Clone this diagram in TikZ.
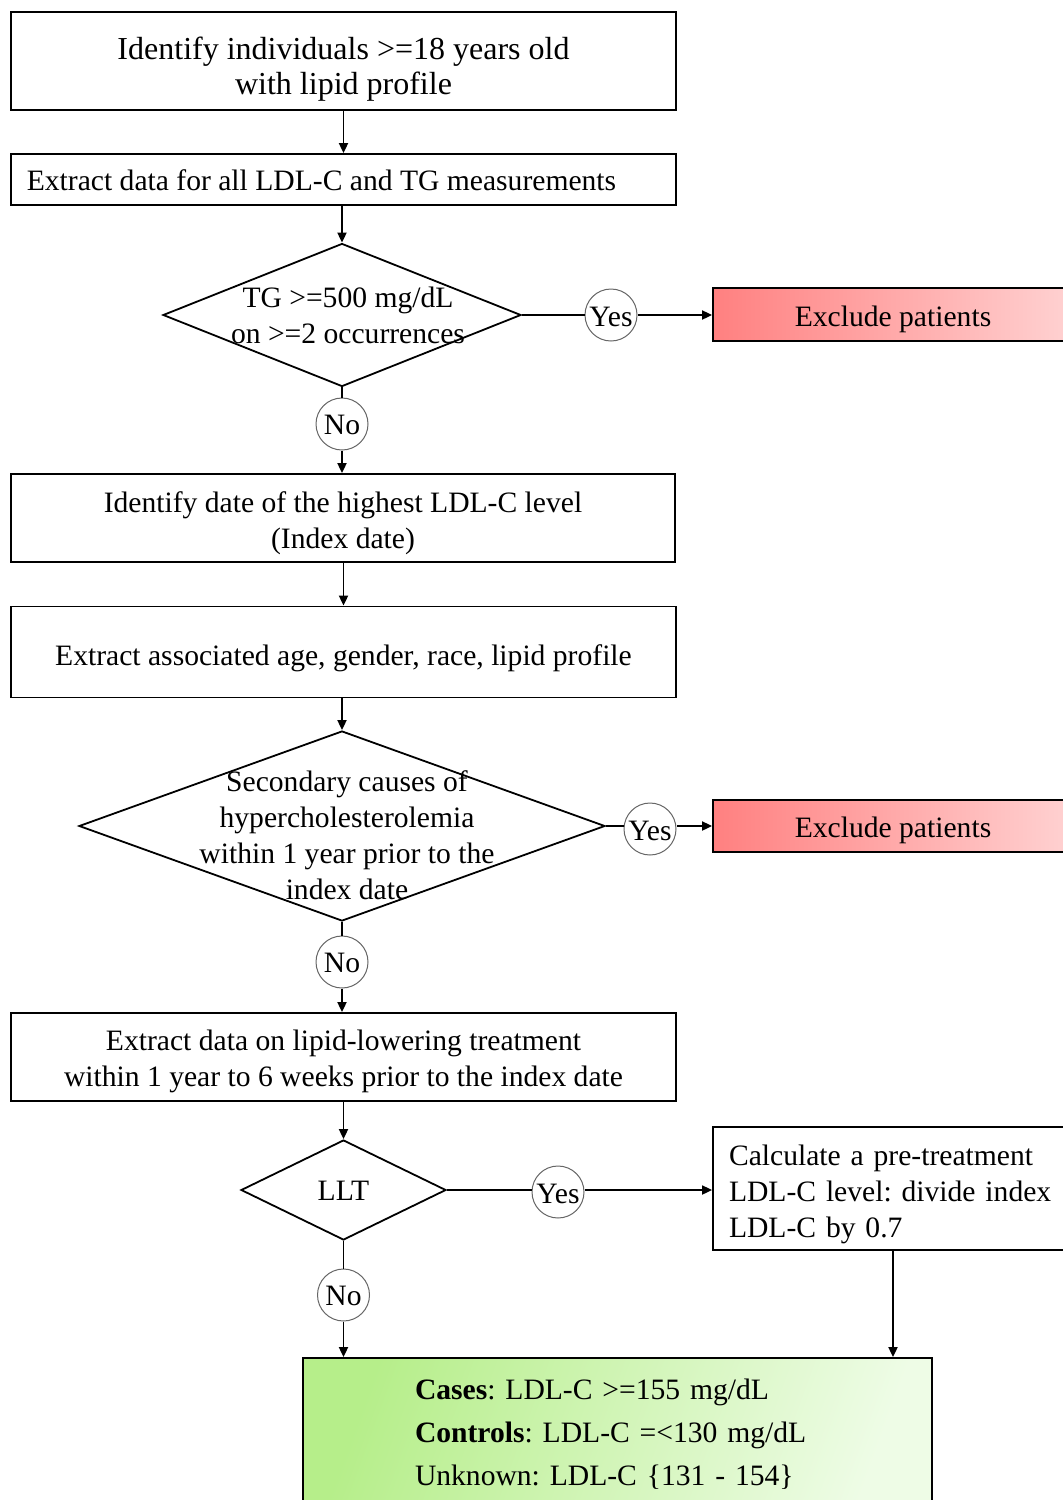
\documentclass[tikz,border=0pt]{standalone}
\usepackage{fontspec}
\setmainfont{Liberation Serif}
\usetikzlibrary{shapes.geometric,arrows.meta}
\definecolor{redL}{RGB}{255,128,128}
\definecolor{redR}{RGB}{255,210,210}
\definecolor{greenL}{RGB}{182,238,138}
\definecolor{greenR}{RGB}{238,252,230}
\newcommand{\fsz}{\fontsize{14.8}{18}\selectfont}
\newcommand{\sh}[2]{\raisebox{-#1}[\height][\depth]{#2}}
\newcommand{\mlc}[1]{\begin{tabular}{@{}c@{}}#1\end{tabular}}
\newcommand{\mll}[1]{\begin{tabular}{@{}l@{}}#1\end{tabular}}
\frenchspacing
\begin{document}
\begin{tikzpicture}[x=0.5pt,y=-0.5pt,
  box/.style={draw, line width=0.9pt, align=center, inner sep=0pt, font=\fsz},
  dia/.style={diamond, draw, line width=0.9pt, inner sep=0pt},
  txt/.style={align=center, inner sep=0pt, font=\fsz},
  lab/.style={circle, draw=black!60, line width=0.5pt, minimum size=26pt, inner sep=0pt, font=\fsz, fill=white},
  arr/.style={-{Triangle[length=5pt,width=4.5pt]}, line width=0.9pt},
  ln/.style={line width=0.9pt}]
\useasboundingbox (0,0) rectangle (1063,1500);
\clip (0,0) rectangle (1063,1500);

% boxes
\node[box, minimum width=332.5pt, minimum height=49pt, font=\fontsize{16}{17.5}\selectfont] (b1) at (343.5,61)
  {\sh{4.5pt}{\mlc{Identify individuals >=18 years old\\with lipid profile}}};
\node[box, minimum width=332.5pt, minimum height=25.5pt] (b2) at (343.5,179.5)
  {\sh{0.5pt}{Extract data for all LDL-C and TG measurements}\hspace*{22pt}};
\node[dia, minimum width=179pt, minimum height=71.5pt] (d1) at (342,315) {};
\node[txt] (d1t) at (348,315) {TG >=500 mg/dL\\on >=2 occurrences};
\node[lab] (y1) at (611,315) {\sh{1pt}{Yes}};
\node[box, minimum width=180pt, minimum height=26.5pt, left color=redL, right color=redR] (e1) at (893,314.5) {\sh{2.5pt}{Exclude patients}};
\node[lab] (n1) at (342,424) {\sh{0.5pt}{No}};
\node[box, minimum width=332pt, minimum height=44pt] (b3) at (343,518)
  {\sh{2.5pt}{\mlc{Identify date of the highest LDL-C level\\(Index date)}}};
\node[box, minimum width=332.5pt, minimum height=45.5pt] (b4) at (343.5,652)
  {\sh{3pt}{Extract associated age, gender, race, lipid profile}};
\node[dia, minimum width=263pt, minimum height=95pt] (d2) at (342,826) {};
\node[txt] (d2t) at (347,835) {Secondary causes of\\hypercholesterolemia\\within 1 year prior to the\\index date};
\node[lab] (y2) at (650,829) {\sh{1pt}{Yes}};
\node[box, minimum width=180pt, minimum height=26pt, left color=redL, right color=redR] (e2) at (893,826) {\sh{2pt}{Exclude patients}};
\node[lab] (n2) at (342,962) {\sh{0.5pt}{No}};
\node[box, minimum width=332.5pt, minimum height=44pt] (b5) at (343.5,1057)
  {\sh{2pt}{\mlc{Extract data on lipid-lowering treatment\\within 1 year to 6 weeks prior to the index date}}};
\node[dia, minimum width=102.5pt, minimum height=50pt] (d3) at (343.5,1190) {};
\node[txt] (d3t) at (343.5,1190) {\sh{0.5pt}{LLT}};
\node[lab] (y3) at (558,1192) {\sh{1pt}{Yes}};
\node[box, minimum width=180pt, minimum height=61.5pt, align=left, text width=164pt, inner xsep=8pt] (b6) at (893,1188.5)
  {\sh{2.75pt}{\mll{Calculate a pre-treatment\\LDL-C level: divide index\\LDL-C by 0.7}}};
\node[lab] (n3) at (343.5,1295) {\sh{0.5pt}{No}};
\node[box, minimum width=314.5pt, minimum height=76pt, align=left, text width=202.5pt, inner xsep=56pt,
  font=\fontsize{14.8}{21.5}\selectfont, left color=greenL, right color=greenR, shading angle=70] (f) at (617.5,1434)
  {\textbf{Cases}: LDL-C >=155 mg/dL\\\textbf{Controls}: LDL-C =<130 mg/dL\\Unknown: LDL-C \{131 - 154\}};

% connectors
\draw[arr] (b1) -- (b2);
\draw[arr] (b2.south -| d1.north) -- (d1.north);
\draw[ln] (d1.east) -- (y1);
\draw[arr] (y1) -- (y1 -| e1.west);
\draw[ln] (d1.south) -- (n1);
\draw[arr] (n1) -- (b3.north -| n1);
\draw[arr] (b3.south -| b4.north) -- (b4.north);
\draw[arr] (b4.south -| d2.north) -- (d2.north);
\draw[ln] (d2.east) -- (y2.west |- d2.east);
\draw[arr] (y2.east |- e2.west) -- (e2.west);
\draw[ln] (d2.south) -- (n2);
\draw[arr] (n2) -- (b5.north -| n2);
\draw[arr] (b5.south -| d3.north) -- (d3.north);
\draw[ln] (d3.east) -- (y3.west |- d3.east);
\draw[arr] (y3.east |- d3.east) -- (b6.west |- d3.east);
\draw[ln] (d3.south) -- (n3);
\draw[arr] (n3) -- (n3 |- f.north);
\draw[arr] (b6.south) -- (b6.south |- f.north);
\end{tikzpicture}
\end{document}
